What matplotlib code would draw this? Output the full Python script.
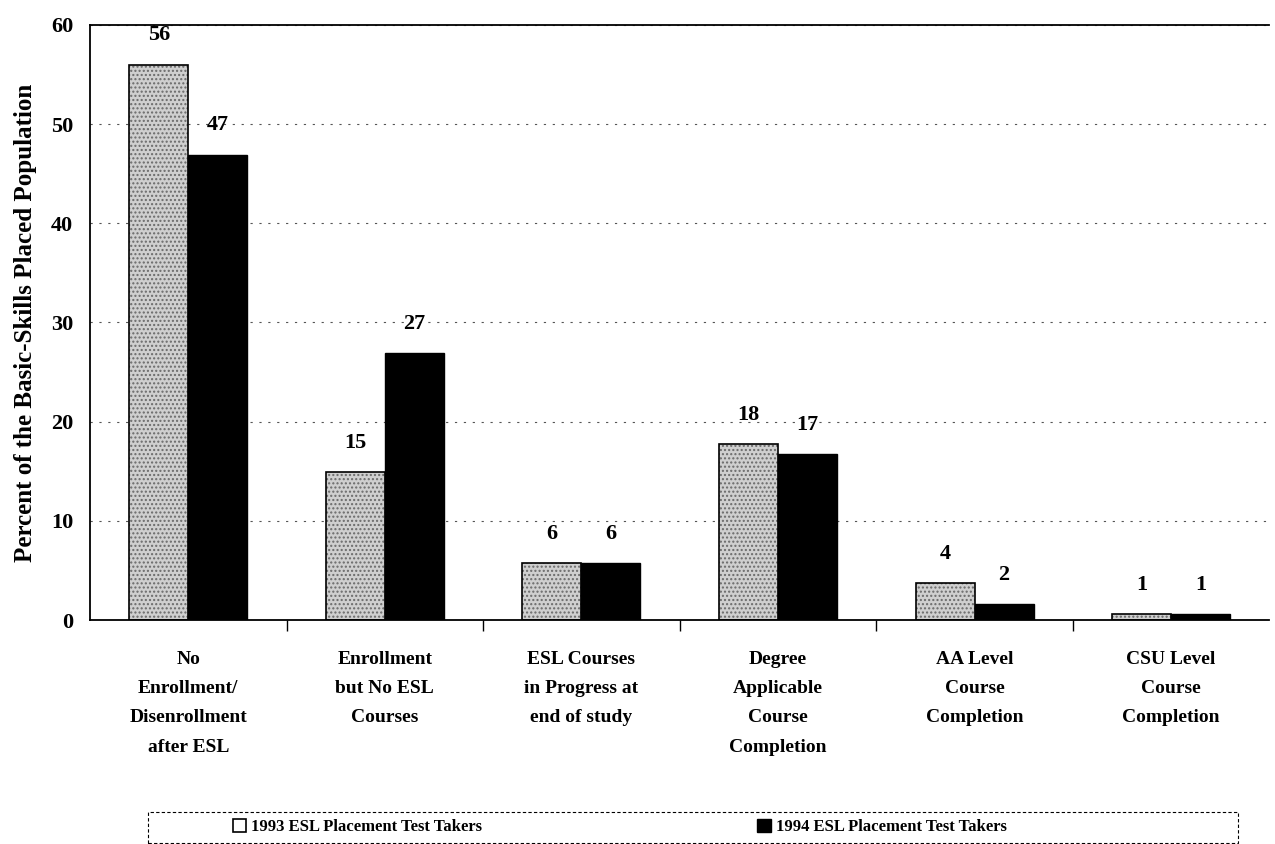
import matplotlib.pyplot as plt
from matplotlib.patches import Rectangle
import numpy as np

plt.rcParams['font.family'] = ['Liberation Serif', 'DejaVu Serif']
plt.rcParams['font.weight'] = 'bold'

categories = ["No\nEnrollment/\nDisenrollment\nafter ESL",
              "Enrollment\nbut No ESL\nCourses",
              "ESL Courses\nin Progress at\nend of study",
              "Degree\nApplicable\nCourse\nCompletion",
              "AA Level\nCourse\nCompletion",
              "CSU Level\nCourse\nCompletion"]
# bar heights as drawn, and the printed labels
vals_1993 = [56, 14.9, 5.7, 17.7, 3.7, 0.6]
vals_1994 = [46.9, 26.9, 5.7, 16.7, 1.6, 0.6]
labels_1993 = ["56", "15", "6", "18", "4", "1"]
labels_1994 = ["47", "27", "6", "17", "2", "1"]
series_names = ["1993 ESL Placement Test Takers", "1994 ESL Placement Test Takers"]

fig = plt.figure(figsize=(12.75, 8.44), dpi=100)
ax = fig.add_axes([0.0706, 0.2654, 0.925, 0.705])

x = np.arange(len(categories))
w = 0.3

# stippled light bars
ax.bar(x - w/2, vals_1993, w, color='#cfcfcf', hatch='....',
       edgecolor='#6a6a6a', linewidth=0, zorder=2)
ax.bar(x - w/2, vals_1993, w, fill=False, edgecolor='black', linewidth=1.2, zorder=3)
b2 = ax.bar(x + w/2, vals_1994, w, color='black', edgecolor='black', zorder=3)

for xi, v, t in zip(x - w/2, vals_1993, labels_1993):
    ax.annotate(t, (xi, v), xytext=(0, 14), textcoords='offset points',
                ha='center', va='bottom', fontsize=16, fontweight='bold')
for xi, v, t in zip(x + w/2, vals_1994, labels_1994):
    ax.annotate(t, (xi, v), xytext=(0, 14), textcoords='offset points',
                ha='center', va='bottom', fontsize=16, fontweight='bold')

ax.set_ylim(0, 60)
ax.set_xlim(-0.5, len(categories) - 0.5)
ax.set_yticks(range(0, 61, 10))
ax.tick_params(axis='y', length=0, labelsize=16, pad=12)
ax.set_xticks(x)
ax.set_xticklabels(categories, fontsize=14, fontweight='bold', linespacing=1.95)
ax.tick_params(axis='x', length=0, pad=22)
ax.set_xticks(np.arange(0.5, len(categories) - 0.5), minor=True)
ax.tick_params(axis='x', which='minor', length=8, width=1, direction='out')
ax.yaxis.grid(True, linestyle=(0, (2, 6)), color='#555555', linewidth=0.8)
ax.set_axisbelow(True)
ax.spines['right'].set_visible(False)
for s in ['left', 'bottom', 'top']:
    ax.spines[s].set_linewidth(1.3)

ax.set_ylabel("Percent of the Basic-Skills Placed Population", fontsize=18,
              fontweight='bold', labelpad=10)

# dashed legend box
fig.patches.append(Rectangle((148/1275, 1/844), 1090/1275, 31/844,
                             transform=fig.transFigure, fill=False,
                             edgecolor='black', linewidth=0.8,
                             linestyle=(0, (3, 2))))
h1 = Rectangle((0, 0), 1, 1, facecolor='white', edgecolor='black', linewidth=1.2)
leg = fig.legend([h1, b2], series_names, loc='center', ncol=2,
                 bbox_to_anchor=(0.486, 17/844), fontsize=12, frameon=False,
                 handlelength=0.8, handleheight=0.8,
                 handletextpad=0.3, columnspacing=16.5, borderpad=0.2)

fig.savefig("out.png", dpi=100)
